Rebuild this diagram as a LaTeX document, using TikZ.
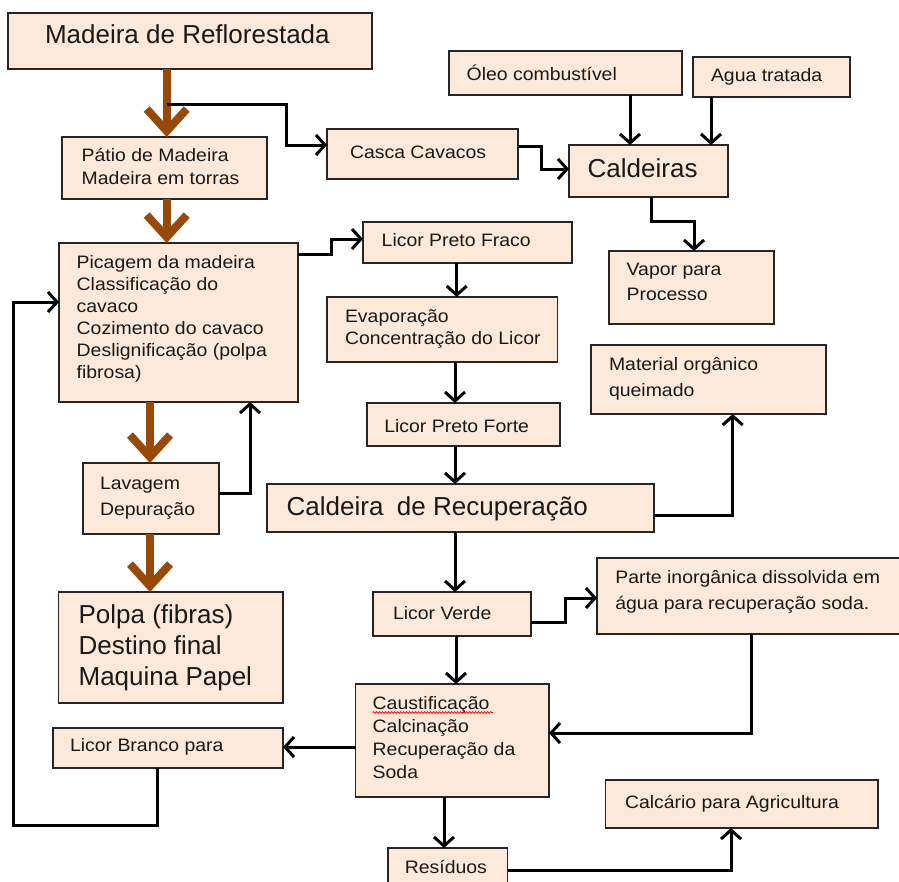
\documentclass[tikz,border=0pt]{standalone}
\usepackage{fontspec}
\setmainfont{Liberation Sans}
\newfontfamily\smfam[FakeStretch=1.08]{Liberation Sans}
\usetikzlibrary{arrows.meta,decorations.pathmorphing}
\definecolor{peach}{HTML}{FDE9D9}
\definecolor{woodbrown}{HTML}{984807}
\newcommand\smsz[1]{\smfam\fontsize{18}{#1}\selectfont}
\newcommand\lgsz{\fontsize{26}{31}\selectfont}
\newcommand\mkbox[5]{\node[box, minimum width={(#4-#2)*1pt}, minimum height={(#5-#3)*1pt}] (#1) at (#2,#3) {};}
\tikzset{
  box/.style={draw=black!85, line width=1.6pt, fill=peach, rectangle, inner sep=0pt, outer sep=0pt, anchor=north west},
  txt/.style={inner sep=0pt, outer sep=0pt, align=left, text=black!90},
  one/.style={txt, anchor=base west},
  multi/.style={txt, anchor=north west},
  blk/.style={draw=black, line width=3pt, -{Straight Barb[length=9pt,width=20pt]}},
  brn/.style={draw=woodbrown, line width=8pt, -{Straight Barb[length=22pt,width=40pt]}},
}
\begin{document}
\begin{tikzpicture}[x=1pt,y=-1pt]
\useasboundingbox[fill=white] (0,0) rectangle (899,881);
% boxes
\mkbox{madeira}{8}{13}{372}{69}
\mkbox{patio}{62}{137}{267}{199}
\mkbox{casca}{327}{129}{518}{179}
\mkbox{oleo}{449}{51}{682}{95}
\mkbox{agua}{693}{57}{850}{97}
\mkbox{caldeiras}{569}{145}{728}{197}
\mkbox{vapor}{609}{251}{774}{324}
\mkbox{lpfraco}{363}{222}{572}{263}
\mkbox{picagem}{59}{243}{298}{402}
\mkbox{evap}{327}{297}{557.5}{362}
\mkbox{lpforte}{367}{403}{560}{446}
\mkbox{material}{591}{345}{826}{414}
\mkbox{caldrec}{267}{484}{654}{532}
\mkbox{lavagem}{83}{463}{219}{534}
\mkbox{polpa}{58.5}{592}{283}{703}
\mkbox{licorverde}{373}{592}{531}{636}
\mkbox{parte}{597}{558}{904}{634}
\mkbox{caust}{355.5}{684}{549}{797}
\mkbox{licorbranco}{53}{728}{283}{768}
\mkbox{calcario}{605.5}{780}{878}{828}
\mkbox{residuos}{388}{848}{507.5}{892}
% texts
\node[one, font=\lgsz] (madeira-t) at (45,43.3) {Madeira de Reflorestada};
\node[multi, font=\smsz{22.3}] (patio-t) at (81.7,146.1) {\strut Pátio de Madeira\\Madeira em torras};
\node[one, font=\smsz{22}] (casca-t) at (350,158.3) {Casca Cavacos};
\node[one, font=\smsz{22}] (oleo-t) at (466.7,80) {Óleo combustível};
\node[one, font=\smsz{22}] (agua-t) at (711,81.7) {Agua tratada};
\node[one, font=\lgsz] (caldeiras-t) at (587.7,177.3) {Caldeiras};
\node[multi, font=\smsz{25}] (vapor-t) at (626.7,257.5) {\strut Vapor para\\Processo};
\node[one, font=\smsz{22}] (lpfraco-t) at (381.7,246.7) {Licor Preto Fraco};
\node[multi, font=\smsz{22}] (picagem-t) at (76.7,252.9) {\strut Picagem da madeira\\Classificação do\\cavaco\\Cozimento do cavaco\\Deslignificação (polpa\\fibrosa)};
\node[multi, font=\smsz{22}] (evap-t) at (345,306.9) {\strut Evaporação\\Concentração do Licor};
\node[one, font=\smsz{22}] (lpforte-t) at (384.3,432.3) {Licor Preto Forte};
\node[multi, font=\smsz{26}] (material-t) at (609,352.5) {\strut Material orgânico\\queimado};
\node[one, font=\lgsz] (caldrec-t) at (286.7,515) {Caldeira\hspace{13.5pt}de Recuperação};
\node[multi, font=\smsz{26.4}] (lavagem-t) at (100,470.8) {\strut Lavagem\\Depuração};
\node[multi, font=\lgsz] (polpa-t) at (78.6,601.6) {\strut Polpa (fibras)\\Destino final\\Maquina Papel};
\node[one, font=\smsz{22}] (licorverde-t) at (393,619.3) {Licor Verde};
\node[multi, font=\smsz{26}] (parte-t) at (615.3,565.1) {\strut Parte inorgânica dissolvida em\\água para recuperação soda.};
\node[multi, font=\smsz{23.3}] (caust-t) at (372.7,692.7) {\strut Caustificação\\Calcinação\\Recuperação da\\Soda};
\node[one, font=\smsz{22}] (licorbranco-t) at (70,751.7) {Licor Branco para};
\node[one, font=\smsz{22}] (calcario-t) at (625,808.3) {Calcário para Agricultura};
\node[one, font=\smsz{22}] (residuos-t) at (404.8,873.3) {Resíduos};
% spell-check squiggle
\draw[red, line width=0.7pt, decorate, decoration={snake, amplitude=0.9pt, segment length=3pt}] (372.7,712.5) -- (493,712.5);
% brown arrows
\draw[brn] (madeira.south -| 166.7,0) -- (patio.north -| 166.7,0);
\draw[brn] (patio.south -| 166.7,0) -- (picagem.north -| 166.7,0);
\draw[brn] (picagem.south -| 150,0) -- (lavagem.north -| 150,0);
\draw[brn] (lavagem.south -| 150,0) -- (polpa.north -| 150,0);
% black arrows
\coordinate (split) at (166.7,104);
\draw[blk] (split) -- (286.7,104) -- (286.7,145) -- (casca.west |- 0,145);
\draw[blk] (casca.east |- 0,146) -- (541.7,146) -- (541.7,169) -- (caldeiras.west |- 0,169);
\draw[blk] (oleo.south -| 630,0) -- (caldeiras.north -| 630,0);
\draw[blk] (agua.south -| 711,0) -- (caldeiras.north -| 711,0);
\draw[blk] (caldeiras.south -| 651.7,0) -- (651.7,221.7) -- (694,221.7) -- (vapor.north -| 694,0);
\draw[blk] (picagem.east |- 0,254) -- (331,254) -- (331,239) -- (lpfraco.west |- 0,239);
\draw[blk] (lpfraco.south -| 456.7,0) -- (evap.north -| 456.7,0);
\draw[blk] (evap.south -| 455,0) -- (lpforte.north -| 455,0);
\draw[blk] (lpforte.south -| 455,0) -- (caldrec.north -| 455,0);
\draw[blk] (caldrec.east |- 0,515) -- (732.7,515) -- (material.south -| 732.7,0);
\draw[blk] (caldrec.south -| 455,0) -- (licorverde.north -| 455,0);
\draw[blk] (licorverde.east |- 0,622.7) -- (565,622.7) -- (565,598) -- (parte.west |- 0,598);
\draw[blk] (licorverde.south -| 456,0) -- (caust.north -| 456,0);
\draw[blk] (parte.south -| 751,0) -- (751,733) -- (caust.east |- 0,733);
\draw[blk] (caust.west |- 0,747) -- (licorbranco.east |- 0,747);
\draw[blk] (caust.south -| 444,0) -- (residuos.north -| 444,0);
\draw[blk] (residuos.east |- 0,870) -- (731,870) -- (calcario.south -| 731,0);
\draw[blk] (licorbranco.south -| 157.7,0) -- (157.7,825) -- (13.8,825) -- (13.8,302) -- (picagem.west |- 0,302);
\draw[blk] (lavagem.east |- 0,493) -- (250,493) -- (picagem.south -| 250,0);
\end{tikzpicture}
\end{document}
